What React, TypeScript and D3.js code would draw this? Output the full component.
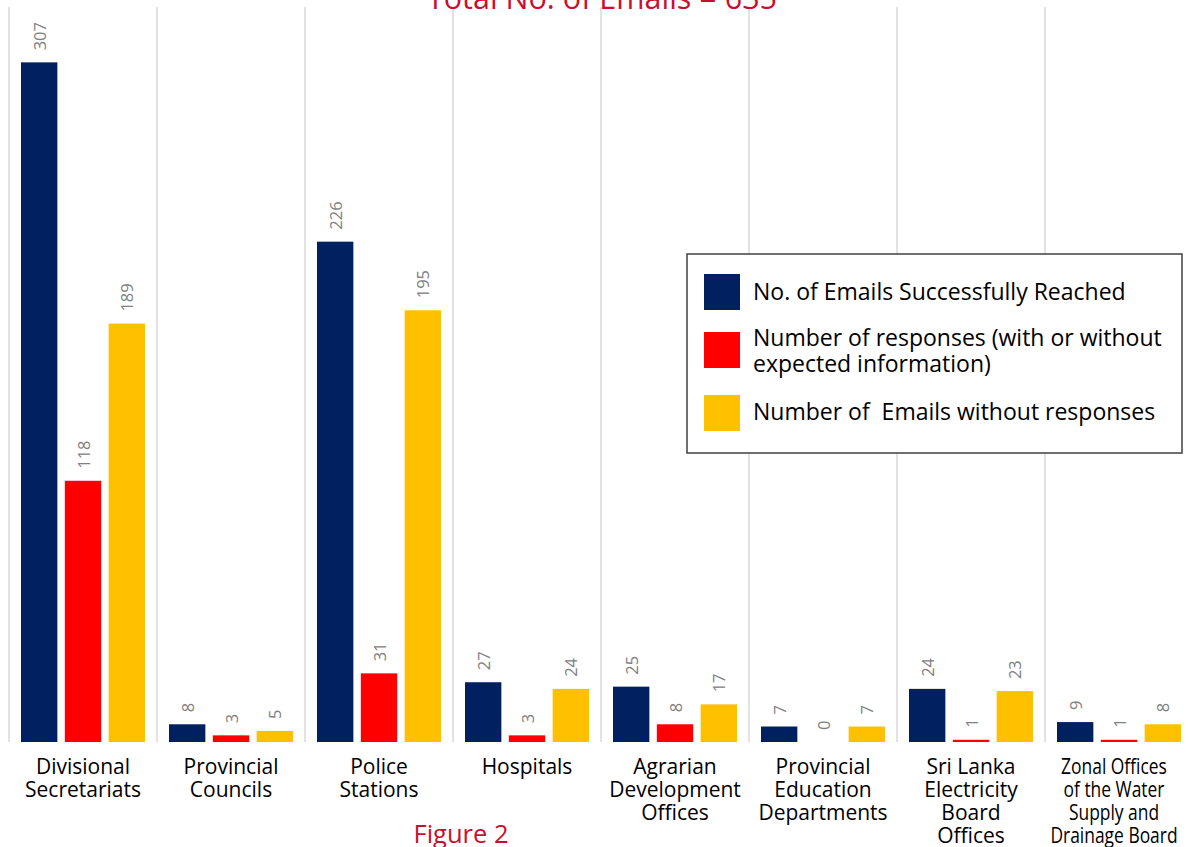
import React from "react";
import * as d3 from "d3";

const categories: string[][] = [
  ["Divisional", "Secretariats"],
  ["Provincial", "Councils"],
  ["Police", "Stations"],
  ["Hospitals"],
  ["Agrarian", "Development", "Offices"],
  ["Provincial", "Education", "Departments"],
  ["Sri Lanka", "Electricity", "Board", "Offices"],
  ["Zonal Offices", "of the Water", "Supply and", "Drainage Board"],
];
const reached = [307, 8, 226, 27, 25, 7, 24, 9];
const responses = [118, 3, 31, 3, 8, 0, 1, 1];
const noResponse = [189, 5, 195, 24, 17, 7, 23, 8];
const seriesNames = [
  ["No. of Emails Successfully Reached"],
  ["Number of responses (with or without", "expected information)"],
  ["Number of  Emails without responses"],
];
const seriesColors = ["#002060", "#ff0000", "#ffc000"];
const title = "Total No. of Emails = 635";
const caption = "Figure 2";

const W = 1189;
const H = 847;
const FONT = "'Open Sans', 'Noto Sans', sans-serif";

export default function App() {
  const series = [reached, responses, noResponse];
  const baseY = 742;
  const topY = 7;
  const x0 = d3
    .scaleBand<number>()
    .domain(d3.range(categories.length))
    .range([9, 9 + 148 * categories.length])
    .padding(0);
  const x1 = d3
    .scaleBand<number>()
    .domain([0, 1, 2])
    .range([12, 136])
    .paddingInner(0.17);
  const y = d3.scaleLinear().domain([0, 332]).range([baseY, topY]);

  return (
    <svg
      width={W}
      height={H}
      style={{ position: "absolute", left: 0, top: 0, background: "#fff" }}
      fontFamily={FONT}
    >
      <rect width={W} height={H} fill="#fff" />
      {d3.range(categories.length + 1).map((i) => {
        const gx = 9 + 148 * i;
        return (
          <line
            key={"g" + i}
            x1={gx}
            x2={gx}
            y1={topY}
            y2={baseY}
            stroke="#d9d9d9"
            strokeWidth={1.5}
          />
        );
      })}
      {categories.map((_, ci) =>
        series.map((s, si) => {
          const bx = (x0(ci) ?? 0) + (x1(si) ?? 0);
          const bw = x1.bandwidth();
          const v = s[ci];
          const top = y(v);
          const cx = bx + bw / 2;
          const ly = top - 12;
          return (
            <g key={`b${ci}-${si}`}>
              <rect
                x={bx}
                y={top}
                width={bw}
                height={baseY - top}
                fill={seriesColors[si]}
              />
              <text
                transform={`translate(${cx},${ly}) rotate(-90)`}
                textAnchor="start"
                dominantBaseline="central"
                fontSize={16.5}
                fill="#808080"
              >
                {v}
              </text>
            </g>
          );
        })
      )}
      {categories.map((lines, ci) => {
        const cx = (x0(ci) ?? 0) + x0.bandwidth() / 2;
        const last = ci === categories.length - 1;
        const lx = last ? Math.min(cx, 1114) : cx;
        return (
          <g key={"c" + ci}>
            {lines.map((l, li) => (
              <text
                key={li}
                transform={`translate(${lx},${774 + li * 23}) scale(${last ? 0.83 : 1},1)`}
                textAnchor="middle"
                fontSize={21}
                fill="#000"
              >
                {l}
              </text>
            ))}
          </g>
        );
      })}
      <text x={602} y={9} textAnchor="middle" fontSize={30.5} fill="#c8102e">
        {title}
      </text>
      <text x={461} y={843} textAnchor="middle" fontSize={25.5} fill="#c8102e">
        {caption}
      </text>
      <rect
        x={687}
        y={254}
        width={495}
        height={199}
        fill="#fff"
        stroke="#404040"
        strokeWidth={1.5}
      />
      {seriesNames.map((lines, i) => {
        const sy = [274, 332, 395][i];
        return (
          <g key={"l" + i}>
            <rect x={704} y={sy} width={36} height={36} fill={seriesColors[i]} />
            {lines.map((l, li) => (
              <text
                key={li}
                x={753}
                y={[300, 346, 420][i] + li * 26}
                fontSize={23}
                fill="#000"
                style={{ whiteSpace: "pre" }}
              >
                {l}
              </text>
            ))}
          </g>
        );
      })}
    </svg>
  );
}
